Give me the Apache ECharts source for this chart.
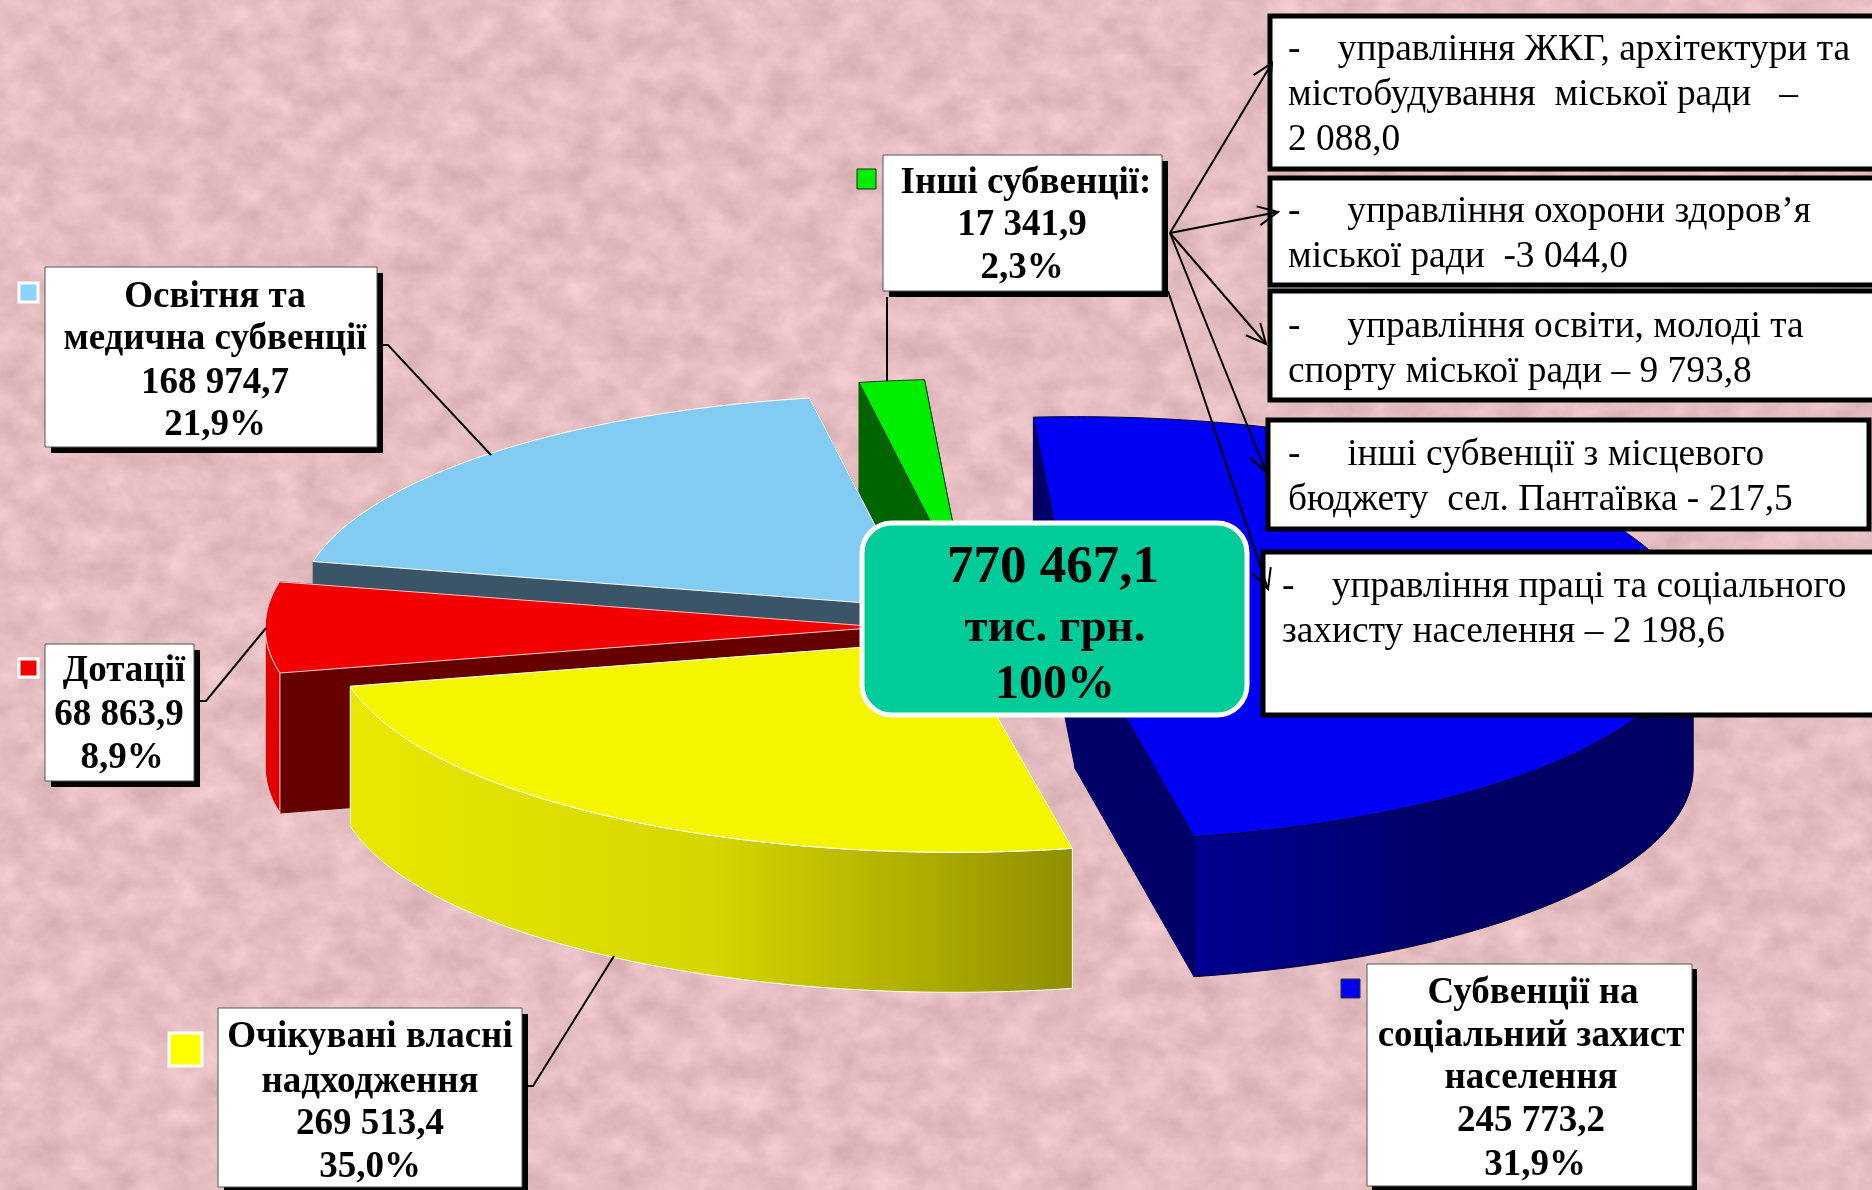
<!DOCTYPE html>
<html>
<head>
<meta charset="utf-8">
<title>Доходи бюджету</title>
<script src="https://cdn.jsdelivr.net/npm/echarts@6/dist/echarts.min.js"></script>
<style>
  html, body { margin: 0; padding: 0; width: 100%; height: 100%; overflow: hidden; }
  body {
    background: #e6bfc2 url("data:image/svg+xml,%3Csvg xmlns='http://www.w3.org/2000/svg' width='1872' height='1190'%3E%3Cfilter id='n' color-interpolation-filters='sRGB' x='0' y='0' width='100%25' height='100%25'%3E%3CfeTurbulence type='fractalNoise' baseFrequency='0.03 0.036' numOctaves='5' seed='7'/%3E%3CfeColorMatrix values='0.17 0 0 0 0.815 0.17 0 0 0 0.66 0.17 0 0 0 0.675 0 0 0 0 1'/%3E%3C/filter%3E%3Crect width='1872' height='1190' filter='url(%23n)'/%3E%3C/svg%3E") no-repeat;
  }
  #chart { width: 1872px; height: 1190px; }
</style>
</head>
<body>
<div id="chart"></div>
<script>
// order is clockwise round the pie, starting from the green wedge
const categoryLines = [
  ['Інші субвенції:'],
  ['Субвенції на', 'соціальний захист', 'населення'],
  ['Очікувані власні', 'надходження'],
  ['Дотації'],
  ['Освітня та', 'медична субвенції'],
]
const amounts = [17341.9, 245773.2, 269513.4, 68863.9, 168974.7]
const percents = [2.3, 31.9, 35.0, 8.9, 21.9]
// the wedges in the picture are not drawn to the printed numbers, these are read off the wedges
const wedgeShares = [1.7, 48.0, 24.6, 6.9, 18.8]
const totalAmount = 770467.1
const totalPercent = 100

const subventionLines = [
  ['-    управління ЖКГ, архітектури та', 'містобудування  міської ради   –', '2 088,0'],
  ['-     управління охорони здоров’я', 'міської ради  -3 044,0'],
  ['-     управління освіти, молоді та', 'спорту міської ради – 9 793,8'],
  ['-     інші субвенції з місцевого', 'бюджету  сел. Пантаївка - 217,5'],
  ['-    управління праці та соціального', 'захисту населення – 2 198,6'],
]

const SERIF = '"Liberation Serif", "Times New Roman", serif'

// look of the pie
const pie = { cx: 979, cy: 627, rx: 618, ry: 212, depth: 140, startAngle: 350 }
const explode = [0.17, 0.157, 0.075, 0.155, 0.145]
const drop = [0, 6, 0, 0, 2]
const drawRank = [0, 3, 4, 2, 1]
const wedgeStyles = [
  { top: '#00ee00', cut: '#006400', wall: '#006400', edge: '#1a3a1a' },
  { top: '#0000f2', cut: '#000068', wall: ['#000090', '#000068', '#000064'], edge: '#000033' },
  { top: '#f5f500', cut: '#8f8f00', wall: ['#e8e800', '#d6d600', '#8f8f00'], edge: '#ffffff' },
  { top: '#f50000', cut: '#660000', wall: '#e00000', edge: '#ffd0d0' },
  { top: '#82cbf2', cut: '#3a5567', wall: '#3a5567', edge: '#ffffff' },
]

const rad = (d) => (d * Math.PI) / 180

const renderWedge = (params, api) => {
  const i = params.dataIndex
  const total = wedgeShares.reduce((a, b) => a + b, 0)
  let before = 0
  for (let k = 0; k < i; k++) before += wedgeShares[k]
  const t0 = pie.startAngle + (before / total) * 360
  const t1 = t0 + (api.value(0) / total) * 360
  const mid = rad((t0 + t1) / 2)

  // exploded wedge apex
  const ox = pie.cx + explode[i] * pie.rx * Math.sin(mid)
  const oy = pie.cy - explode[i] * pie.ry * Math.cos(mid) + drop[i]
  const at = (t, dz = 0) => [ox + pie.rx * Math.sin(rad(t)), oy - pie.ry * Math.cos(rad(t)) + dz]
  const arc = (a, b, dz = 0) => {
    const pts = []
    const n = Math.max(2, Math.ceil(Math.abs(b - a)))
    for (let k = 0; k <= n; k++) pts.push(at(a + ((b - a) * k) / n, dz))
    return pts
  }

  const st = wedgeStyles[i]
  const z2 = drawRank[i] * 10
  const children = []
  const poly = (points, fill, z, edge) =>
    children.push({
      type: 'polygon',
      z2: z2 + z,
      shape: { points },
      style: { fill, stroke: edge || fill, lineWidth: 1 },
    })

  // cut faces first, top face and wall paint over whichever is hidden
  const apex = [ox, oy]
  const apexLow = [ox, oy + pie.depth]
  poly([apex, at(t0), at(t0, pie.depth), apexLow], st.cut, 0)
  poly([apex, at(t1), at(t1, pie.depth), apexLow], st.cut, 0)

  // outer wall, only the front half of the rim shows (angles run from 350 up to 710)
  const wallFrom = Math.max(t0, 450)
  const wallTo = Math.min(t1, 630)
  if (wallTo > wallFrom) {
    const fill = Array.isArray(st.wall)
      ? new echarts.graphic.LinearGradient(0, 0, 1, 0,
          st.wall.map((c, k) => ({ offset: k / (st.wall.length - 1), color: c })))
      : st.wall
    poly(arc(wallFrom, wallTo).concat(arc(wallFrom, wallTo, pie.depth).reverse()), fill, 1, st.edge)
  }

  poly([apex].concat(arc(t0, t1)), st.top, 2, st.edge)
  return { type: 'group', children }
}

// annotations
const fmtAmount = (v) => {
  const [a, b] = v.toFixed(1).split('.')
  return a.replace(/\B(?=(\d{3})+$)/g, ' ') + ',' + b
}
const fmtPercent = (v) => (v === 100 ? '100%' : v.toFixed(1).replace('.', ',') + '%')

const elements = []
const add = (el) => elements.push({ silent: true, z: 50, ...el })
const text = (s, x, base, size, bold, align = 'left') =>
  add({
    type: 'text',
    style: {
      text: s,
      x,
      y: base - size * 0.26,
      fill: '#000',
      font: `${bold ? 'bold ' : ''}${size}px ${SERIF}`,
      align,
      verticalAlign: 'middle',
    },
  })
const line = (points, width = 2) =>
  add({ type: 'polyline', shape: { points }, style: { stroke: '#000', lineWidth: width, fill: 'none' } })
const arrow = (from, to) => {
  line([from, to])
  const ang = Math.atan2(to[1] - from[1], to[0] - from[0])
  const head = (d) => [to[0] - 22 * Math.cos(ang + d), to[1] - 22 * Math.sin(ang + d)]
  line([head(0.45), to, head(-0.45)])
}
const labelBox = (x, y, w, h, shadow) => {
  add({ type: 'rect', shape: { x: x + shadow, y: y + shadow, width: w, height: h }, style: { fill: '#000' } })
  add({ type: 'rect', shape: { x, y, width: w, height: h }, style: { fill: '#fff', stroke: '#555', lineWidth: 1 } })
}
const key = (x, y, w, h, fill, stroke, lw) =>
  add({ type: 'rect', shape: { x, y, width: w, height: h }, style: { fill, stroke, lineWidth: lw } })

// leader lines
line([[887, 297], [887, 381]])
line([[383, 345], [388, 345], [491, 455]])
line([[200, 701], [206, 701], [266, 628]])
line([[528, 1086], [533, 1086], [614, 956]])

// category boxes, one per wedge
const boxes = [
  { x: 883, y: 155, w: 279, h: 136, shadow: 6, cx: [1026, 1022, 1022], base: [193, 235, 278], key: [857, 169, 19, 20, '#00ee00', '#222', 1] },
  { x: 1367, y: 964, w: 325, h: 222, shadow: 5, cx: [1533, 1531, 1531, 1531, 1535], base: [1003, 1046, 1088, 1131, 1175], key: [1341, 979, 19, 19, '#0000f2', '#333', 1] },
  { x: 218, y: 1008, w: 304, h: 179, shadow: 6, cx: [370, 370, 370, 370], base: [1047, 1092, 1134, 1177], key: [169, 1033, 33, 33, '#ffff00', '#fff', 3] },
  { x: 45, y: 644, w: 149, h: 137, shadow: 6, cx: [124, 119, 122], base: [681, 725, 768], key: [19, 659, 19, 18, '#f50000', '#fff', 3] },
  { x: 45, y: 267, w: 332, h: 180, shadow: 6, cx: [215, 215, 215, 215], base: [307, 349, 393, 435], key: [19, 283, 19, 19, '#88d4fc', '#fff', 3] },
]
boxes.forEach((b, i) => {
  labelBox(b.x, b.y, b.w, b.h, b.shadow)
  key(...b.key)
  const rows = categoryLines[i].concat([fmtAmount(amounts[i]), fmtPercent(percents[i])])
  rows.forEach((r, k) => text(r, b.cx[k], b.base[k], 37, true, 'center'))
})

// breakdown of the other subventions
const notes = [
  { x: 1270, y: 16, w: 640, h: 153, tx: 1288, base: [60, 105, 150] },
  { x: 1270, y: 178, w: 640, h: 107, tx: 1288, base: [222, 267] },
  { x: 1270, y: 291, w: 640, h: 109, tx: 1288, base: [337, 382] },
  { x: 1268, y: 420, w: 601, h: 109, tx: 1288, base: [465, 510] },
  { x: 1263, y: 552, w: 640, h: 163, tx: 1282, base: [597, 642] },
]
notes.forEach((n, i) => {
  add({ type: 'rect', shape: { x: n.x, y: n.y, width: n.w, height: n.h }, style: { fill: '#fff', stroke: '#000', lineWidth: 5 } })
  subventionLines[i].forEach((r, k) => text(r, n.tx, n.base[k], 37.4, false))
})

// total in the middle
add({ type: 'rect', shape: { x: 862, y: 523, width: 385, height: 192, r: 30 }, style: { fill: '#00cc99', stroke: '#fff', lineWidth: 5 } })
text(fmtAmount(totalAmount), 1053, 582, 53, true, 'center')
text('тис. грн.', 1055, 641, 47, true, 'center')
text(fmtPercent(totalPercent), 1055, 698, 48, true, 'center')

// arrows from the green box to the breakdown
arrow([1170, 233], [1272, 63])
arrow([1170, 233], [1278, 212])
arrow([1170, 233], [1266, 344])
arrow([1170, 233], [1266, 472])
arrow([1168, 291], [1268, 589])

const chart = echarts.init(document.getElementById('chart'), null, { renderer: 'canvas' })
chart.setOption({
  animation: false,
  backgroundColor: 'transparent',
  graphic: { elements },
  series: [
    {
      type: 'custom',
      coordinateSystem: 'none',
      silent: true,
      clip: false,
      renderItem: renderWedge,
      data: wedgeShares.map((v) => [v]),
    },
  ],
})
</script>
</body>
</html>
